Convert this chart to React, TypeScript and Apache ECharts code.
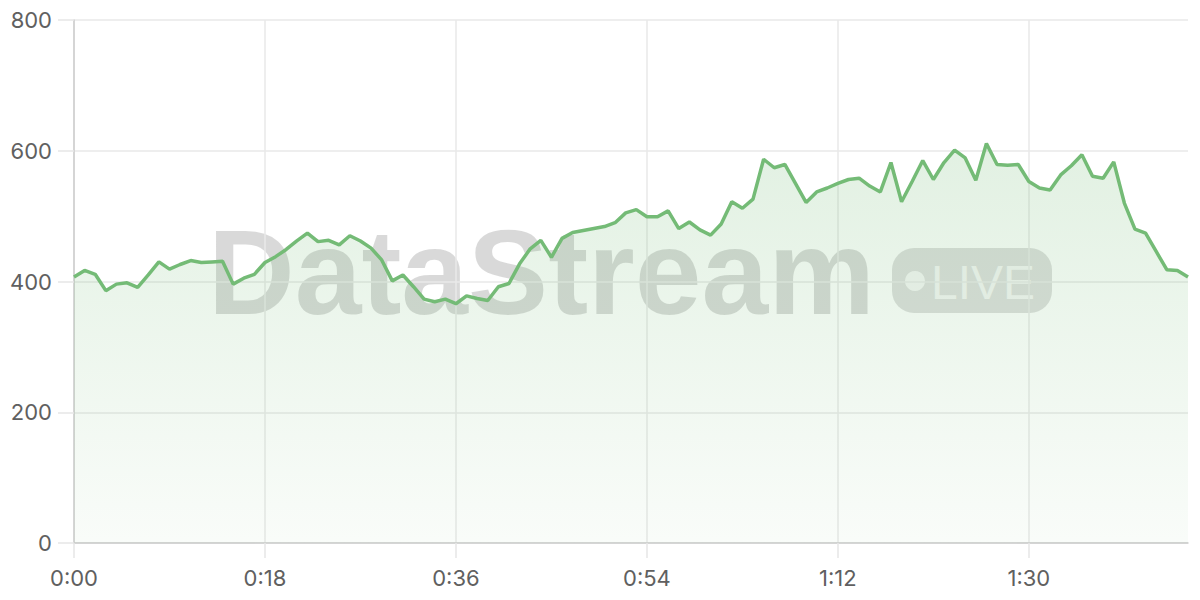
import React, { useEffect, useRef } from "react";
import * as echarts from "echarts";

// Values per second (0:00 .. 1:45)
const values: number[] = [
  407, 417, 411, 386, 396, 398, 391, 410, 430, 419,
  426, 432, 429, 430, 431, 396, 405, 411, 429, 438,
  449, 462, 474, 461, 463, 456, 470, 462, 451, 433,
  401, 410, 392, 373, 369, 373, 366, 378, 374, 371,
  392, 397, 427, 450, 463, 437, 466, 475, 478, 481,
  484, 490, 505, 510, 499, 499, 508, 481, 491, 479,
  471, 488, 522, 512, 526, 587, 574, 579, 550, 521,
  537, 543, 550, 556, 558, 546, 537, 582, 522, 553,
  585, 556, 582, 601, 589, 555, 611, 579, 578, 579,
  553, 543, 540, 563, 577, 594, 561, 558, 583, 520,
  480, 474, 446, 418, 417, 407,
];
const yTicks = [0, 200, 400, 600, 800];
const xLabelEvery = 18;
const watermarkText = "DataStream";
const badgeText = "LIVE";

function fmtTime(s: number): string {
  const m = Math.floor(s / 60);
  const sec = Math.round(s % 60);
  return `${m}:${sec < 10 ? "0" : ""}${sec}`;
}

const categories: string[] = values.map((_, i) => fmtTime(i));

export default function App() {
  const ref = useRef<HTMLDivElement>(null);
  useEffect(() => {
    if (!ref.current) return;
    const chart = echarts.init(ref.current, undefined, { renderer: "svg" });
    const font = "Inter";
    const every = xLabelEvery - 1;
    chart.setOption({
      animation: false,
      backgroundColor: "#ffffff",
      grid: {
        left: 74,
        right: 12,
        top: 20,
        bottom: 57,
        containLabel: false,
        outerBoundsMode: "none",
      },
      xAxis: {
        type: "category",
        data: categories,
        boundaryGap: false,
        axisLine: { show: true, lineStyle: { color: "#cccccc", width: 1.5 } },
        axisTick: {
          show: true,
          interval: every,
          length: 15,
          lineStyle: { color: "#e6e6e6", width: 1.5 },
        },
        splitLine: {
          show: true,
          interval: every,
          lineStyle: { color: "#e8e8e8", width: 1.5 },
        },
        axisLabel: {
          interval: every,
          margin: 24,
          color: "#606060",
          fontSize: 22,
          fontFamily: font,
        },
      },
      yAxis: {
        type: "value",
        min: yTicks[0],
        max: yTicks[yTicks.length - 1],
        interval: yTicks[1] - yTicks[0],
        axisLine: { show: true, lineStyle: { color: "#cccccc", width: 1.5 } },
        axisTick: { show: true, length: 16, lineStyle: { color: "#e6e6e6", width: 1.5 } },
        splitLine: { show: true, lineStyle: { color: "#e8e8e8", width: 1.5 } },
        axisLabel: { margin: 22, color: "#606060", fontSize: 22, fontFamily: font },
      },
      graphic: [
        {
          type: "text",
          z: 0,
          silent: true,
          style: {
            x: 208,
            y: 272,
            text: watermarkText,
            fill: "rgba(0,0,0,0.15)",
            font: "bold 120px 'Liberation Sans', Arial, sans-serif",
            textAlign: "left",
            textVerticalAlign: "middle",
          },
        },
        {
          type: "rect",
          z: 0,
          silent: true,
          shape: { x: 892, y: 248, width: 160, height: 65, r: 22 },
          style: { fill: "rgba(0,0,0,0.13)" },
        },
        {
          type: "circle",
          z: 0,
          silent: true,
          shape: { cx: 915, cy: 281, r: 10 },
          style: { fill: "rgba(255,255,255,0.72)" },
        },
        {
          type: "text",
          z: 0,
          silent: true,
          style: {
            x: 931,
            y: 282,
            text: badgeText,
            fill: "rgba(255,255,255,0.72)",
            font: "48px 'Liberation Sans', Arial, sans-serif",
            textAlign: "left",
            textVerticalAlign: "middle",
          },
        },
      ],
      series: [
        {
          type: "line",
          data: values,
          showSymbol: false,
          symbol: "none",
          z: 3,
          lineStyle: { color: "#74bb76", width: 3.5 },
          areaStyle: {
            color: new echarts.graphic.LinearGradient(0, 0, 0, 1, [
              { offset: 0, color: "rgba(116,187,118,0.30)" },
              { offset: 1, color: "rgba(116,187,118,0.06)" },
            ]),
          },
        },
      ],
    });
    return () => chart.dispose();
  }, []);
  return (
    <div
      ref={ref}
      style={{ position: "fixed", left: 0, top: 0, width: 1200, height: 600 }}
    />
  );
}
